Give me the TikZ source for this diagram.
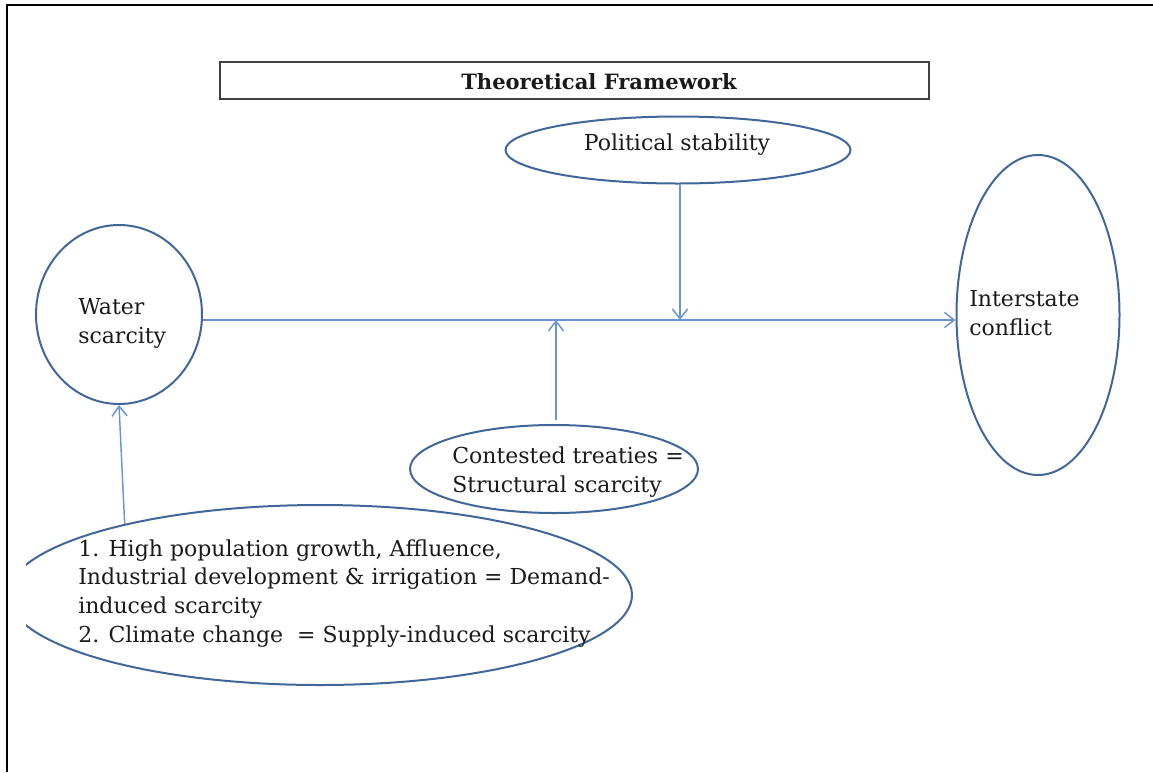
\documentclass[tikz,border=0pt]{standalone}
\usepackage{fontspec}
\setmainfont{DejaVu Serif}
\usetikzlibrary{shapes.geometric,arrows.meta}
\definecolor{ellc}{HTML}{41679A}
\definecolor{arrc}{HTML}{6A95D0}
\definecolor{txtc}{HTML}{1A1A1A}
\tikzset{
  frameline/.style={line width=2pt,black},
  titlebox/.style={draw=black!75,line width=1pt,rectangle,minimum width=531.75pt,minimum height=27.75pt,inner sep=0pt},
  ell/.style={draw=ellc,line width=1.5pt,ellipse,inner sep=0pt},
  lbl/.style={inner sep=0pt,text=txtc,font=\fontsize{16.5}{21.4}\selectfont,align=left},
  arr/.style={draw=arrc,line width=1.1pt,-{Straight Barb[length=2.6mm,width=4mm,line width=1.1pt]}}
}
\begin{document}
\begin{tikzpicture}[x=0.75pt,y=-0.75pt]
\useasboundingbox (0,0) rectangle (1153,772);
\draw[frameline] (7,772) -- (7,5) -- (1153,5);
\node[titlebox] (title) at (574.5,80.5) {};
\node[lbl,font=\bfseries\fontsize{15.8}{21.4}\selectfont,anchor=base] (titletxt) at (599,89) {Theoretical Framework};
\node[ell,minimum width=258.75pt,minimum height=50.25pt] (ps) at (678,150) {};
\node[lbl,anchor=base] (pstxt) at (677,150) {Political stability};
\node[ell,minimum width=124.5pt,minimum height=134.25pt] (ws) at (119,314.5) {};
\node[lbl,anchor=base west] (wstxt) at (78,343) {Water\\scarcity};
\node[ell,minimum width=122.25pt,minimum height=240pt] (ic) at (1038,315) {};
\node[lbl,anchor=base west] (ictxt) at (969,335) {Interstate\\conflict};
\node[ell,minimum width=216pt,minimum height=66pt] (ct) at (554,469) {};
\node[lbl,anchor=base west] (cttxt) at (452,492) {Contested treaties =\\Structural scarcity};
\begin{scope}
\clip (26,0) rectangle (1153,772);
\node[ell,minimum width=468pt,minimum height=135pt] (be) at (320,595) {};
\end{scope}
\node[lbl,anchor=base west] (betxt) at (78,642) {1. High population growth, Affluence,\\Industrial development \& irrigation = Demand-\\induced scarcity\\2. Climate change~ = Supply-induced scarcity};
\coordinate (j1) at (680,320);
\coordinate (j2) at (556,320);
\draw[arr] (ws.east |- j1) -- (ic.west |- j1);
\draw[arr] (j1 |- ps.south) -- (j1);
\draw[arr] (556,420) -- (j2);
\draw[arr] (be.160.35) -- (ws.south);
\end{tikzpicture}
\end{document}
